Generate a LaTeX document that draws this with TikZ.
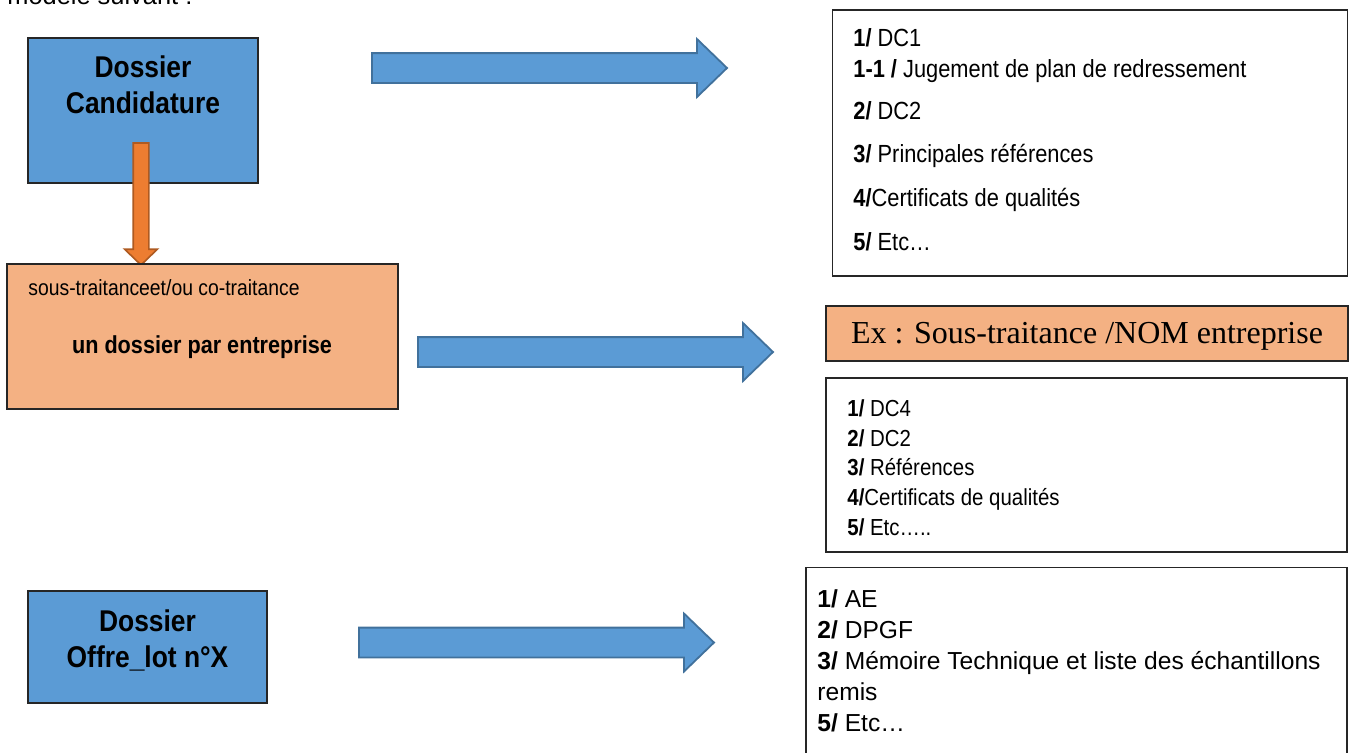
\documentclass[tikz,border=0pt]{standalone}
\usepackage{fontspec}
\setmainfont{Liberation Sans}
\newfontfamily\narrowfont[FakeStretch=0.88]{Liberation Sans}
\newfontfamily\timesfont{Liberation Serif}
\usetikzlibrary{shapes.arrows, positioning}

\definecolor{boxblue}{HTML}{5B9BD5}
\definecolor{arrowedge}{HTML}{41719C}
\definecolor{boxorange}{HTML}{F4B183}
\definecolor{darkorange}{HTML}{ED7D31}
\definecolor{orangeedge}{HTML}{AE5A21}

\tikzset{
  bluebox/.style={draw=black!85, line width=0.8pt, fill=boxblue, inner sep=0pt},
  orangebox/.style={draw=black!85, line width=0.8pt, fill=boxorange, inner sep=0pt},
  listbox/.style={draw=black!85, line width=0.7pt, fill=white, inner sep=0pt},
  title/.style={align=center, inner sep=0pt, font=\narrowfont\bfseries\fontsize{15}{18}\selectfont},
  bigarrow/.style={single arrow, draw=arrowedge, fill=boxblue, line width=0.9pt,
    minimum height=177.5pt, minimum width=0pt, inner sep=7pt, outer sep=0pt,
    single arrow head extend=7pt, single arrow tip angle=88, anchor=tail},
  downarrow/.style={single arrow, draw=orangeedge, fill=darkorange, line width=0.8pt,
    minimum height=61pt, minimum width=0pt, inner sep=3.5pt, outer sep=0pt,
    single arrow head extend=4.25pt, single arrow tip angle=92,
    shape border rotate=270, anchor=tail},
  item/.style={anchor=base west, inner sep=0pt}
}

\begin{document}
\begin{tikzpicture}[x=0.5pt, y=-0.5pt]
\useasboundingbox (0,0) rectangle (1352,752);
\clip (0,0) rectangle (1352,752);

% line cut by the page top
\node[item, font=\fontsize{12.7}{15}\selectfont] (intro) at (7,4) {modèle suivant :};

% candidature
\node[bluebox, minimum width=115pt, minimum height=72.5pt] (cand) at (143,110.5) {};
\node[title] (candtxt) at (143,85) {Dossier\\Candidature};
\node[downarrow] (sub) at (141,143) {};
\node[orangebox, minimum width=195.5pt, minimum height=72.5pt] (entr) at (202.5,336.5) {};
\node[anchor=west, inner sep=0pt, font=\narrowfont\fontsize{11}{13}\selectfont] (entrtop) at (28,288) {sous-traitanceet/ou co-traitance};
\node[inner sep=0pt, font=\narrowfont\bfseries\fontsize{12.3}{15}\selectfont] (entrtxt) at (202,347) {un dossier par entreprise};

% offre
\node[bluebox, minimum width=119.5pt, minimum height=56pt] (offre) at (147.5,647) {};
\node[title] (offretxt) at (147.5,640) {Dossier\\Offre\_lot n°X};

% arrows
\node[bigarrow] (arr1) at (372,68) {};
\node[bigarrow] (arr2) at (418,352) {};
\node[bigarrow] (arr3) at (359,642.5) {};

% pieces candidature
\node[listbox, minimum width=257.5pt, minimum height=133pt] (dc) at (1090,143) {};
\foreach \yy/\txt [count=\i] in {46/{\textbf{1/} DC1},
    77/{\textbf{1-1 /} Jugement de plan de redressement},
    119/{\textbf{2/} DC2},
    162/{\textbf{3/} Principales références},
    206/{\textbf{4/}Certificats de qualités},
    250/{\textbf{5/} Etc…}}
  \node[item, font=\narrowfont\fontsize{12.4}{14}\selectfont] (dc-\i) at (853,\yy) {\txt};

% sous-traitance
\node[orangebox, minimum width=261pt, minimum height=27.5pt] (ex) at (1087,333.5) {};
\node[anchor=base, inner sep=0pt, font=\timesfont\fontsize{16}{19}\selectfont] (extxt) at (1087,343) {Ex : Sous-traitance /NOM entreprise};
\node[listbox, minimum width=260.5pt, minimum height=87pt] (st) at (1086.5,465) {};
\foreach \yy/\txt [count=\i] in {416/{\textbf{1/} DC4},
    446/{\textbf{2/} DC2},
    475/{\textbf{3/} Références},
    505/{\textbf{4/}Certificats de qualités},
    535/{\textbf{5/} Etc…..}}
  \node[item, font=\narrowfont\fontsize{11.6}{14}\selectfont] (st-\i) at (847,\yy) {\txt};

% pieces offre
\node[listbox, minimum width=270.5pt, minimum height=116.5pt] (lot) at (1076.5,684) {};
\foreach \yy/\txt [count=\i] in {607/{\textbf{1/} AE},
    638/{\textbf{2/} DPGF},
    669/{\textbf{3/} Mémoire Technique et liste des échantillons},
    700/{remis},
    731/{\textbf{5/} Etc…}}
  \node[item, font=\fontsize{12.3}{14}\selectfont] (lot-\i) at (817,\yy) {\txt};
\end{tikzpicture}
\end{document}
